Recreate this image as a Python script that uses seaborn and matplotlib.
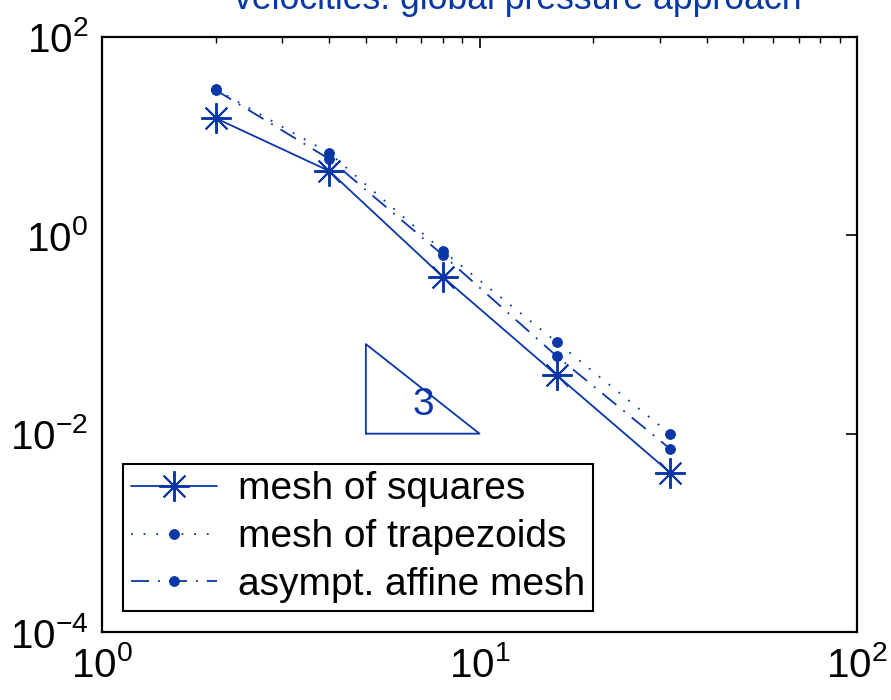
import numpy as np
import pandas as pd
import seaborn as sns
import matplotlib.pyplot as plt

# mesh sizes (1/h) and velocity errors
n_cells = [2, 4, 8, 16, 32]
err_squares = [15.2, 4.45, 0.38, 0.039, 0.00404]
err_trapezoids = [29.6, 6.76, 0.695, 0.084, 0.00993]
err_affine = [29.2, 5.88, 0.633, 0.0607, 0.00702]
labels = ["mesh of squares", "mesh of trapezoids", "asympt. affine mesh"]

# slope triangle (order 3)
tri_x = [5, 10, 5, 5]
tri_y = [0.01, 0.01, 0.08, 0.01]

blue = "#0a37a6"

sns.set_style("white")
plt.rcParams['font.family'] = ['Liberation Sans', 'DejaVu Sans']
plt.rcParams['mathtext.fontset'] = 'custom'
plt.rcParams['mathtext.rm'] = 'Liberation Sans'
plt.rcParams['text.color'] = 'black'

fig = plt.figure(figsize=(8.91, 7), dpi=100)
ax = fig.add_axes([102 / 891, 1 - 632 / 700, 755 / 891, 595 / 700])
ax.set_xscale('log')
ax.set_yscale('log')

df = pd.DataFrame({"n": n_cells, "sq": err_squares,
                   "tr": err_trapezoids, "af": err_affine})

sns.lineplot(data=df, x="n", y="sq", ax=ax, color=blue, lw=1.3,
             marker=(8, 2, 0), markersize=22, markeredgewidth=1.4,
             markeredgecolor=blue, estimator=None, sort=False, label=labels[0])
sns.lineplot(data=df, x="n", y="tr", ax=ax, color=blue, lw=1.3,
             linestyle=(0, (1, 6)), marker='o', markersize=7,
             markeredgecolor=blue, estimator=None, sort=False, label=labels[1])
sns.lineplot(data=df, x="n", y="af", ax=ax, color=blue, lw=1.3,
             linestyle=(0, (10, 5, 1, 5)), marker='o', markersize=7,
             markeredgecolor=blue, estimator=None, sort=False, label=labels[2])

ax.plot(tri_x, tri_y, color=blue, lw=1.3)
ax.text(7.1, 0.0195, "3", color=blue, fontsize=28, ha='center', va='center')

ax.set_xlim(1, 100)
ax.set_ylim(1e-4, 1e2)
ax.set_xticks([1, 10, 100])
ax.set_yticks([1e-4, 1e-2, 1, 1e2])
ax.set_xlabel("")
ax.set_ylabel("")
ax.tick_params(which='both', direction='in', top=True, right=True,
               labelsize=29, colors='black')
ax.tick_params(which='major', length=8, width=1.2, pad=10)
ax.tick_params(which='minor', length=4, width=1.0)
ax.tick_params(axis='y', which='minor', left=False, right=False)
for s in ax.spines.values():
    s.set_linewidth(1.6)
    s.set_color('black')

leg = ax.legend(loc='lower left', fontsize=28, frameon=True, fancybox=False,
                framealpha=1, edgecolor='black', borderaxespad=0.55,
                handlelength=2.2, handletextpad=0.55, labelspacing=0.3,
                borderpad=0.2)
leg.get_frame().set_linewidth(1.5)
for t in leg.get_texts():
    t.set_color('black')

fig.text(518 / 891, 1 - 9 / 700, "velocities: global pressure approach",
         color=blue, fontsize=25.7, ha='center', va='baseline')

fig.savefig("out.png", dpi=100)
